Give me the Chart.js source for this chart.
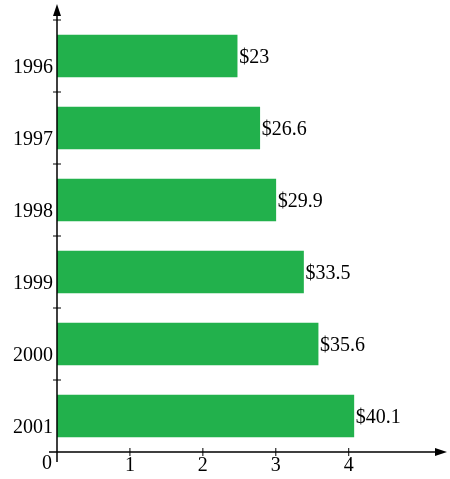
<!DOCTYPE html>
<html>
<head>
<meta charset="utf-8">
<script src="https://cdn.jsdelivr.net/npm/chart.js@4"></script>
<style>
  html, body { margin: 0; padding: 0; background: #fff; }
  #wrap { width: 450px; height: 479px; }
</style>
</head>
<body>
<div id="wrap"><canvas id="chart"></canvas></div>
<script>
const years = ['1996', '1997', '1998', '1999', '2000', '2001'];
const barLengths = [2.47, 2.78, 3.0, 3.38, 3.58, 4.07];
const valueLabels = ['$23', '$26.6', '$29.9', '$33.5', '$35.6', '$40.1'];
const xTicks = [1, 2, 3, 4];
const font = '20px "Liberation Serif", "Times New Roman", serif';

// axes, arrows and labels drawn by hand to look like the original
const axesPlugin = {
    id: 'axesPlugin',
    afterDraw(chart) {
        const ctx = chart.ctx;
        const xs = chart.scales.x;
        const ys = chart.scales.y;
        const x0 = xs.getPixelForValue(0);
        const yb = chart.chartArea.bottom;
        ctx.save();
        ctx.strokeStyle = '#000';
        ctx.fillStyle = '#000';
        ctx.lineWidth = 1.5;
        ctx.beginPath();
        ctx.moveTo(x0, yb + 10);
        ctx.lineTo(x0, 10);
        ctx.moveTo(x0 - 8, yb);
        ctx.lineTo(442, yb);
        ctx.stroke();
        // arrow heads
        ctx.beginPath();
        ctx.moveTo(x0, 4); ctx.lineTo(x0 - 4, 16); ctx.lineTo(x0 + 4, 16); ctx.closePath();
        ctx.moveTo(447, yb); ctx.lineTo(435, yb - 4); ctx.lineTo(435, yb + 4); ctx.closePath();
        ctx.fill();
        ctx.font = font;
        ctx.textBaseline = 'top';
        ctx.textAlign = 'center';
        ctx.lineWidth = 1;
        xTicks.forEach(v => {
            const px = xs.getPixelForValue(v);
            ctx.beginPath(); ctx.moveTo(px, yb - 4); ctx.lineTo(px, yb + 4); ctx.stroke();
            ctx.fillText(String(v), px, yb + 4);
        });
        ctx.fillText('0', x0 - 10, yb + 2);
        // y ticks between categories and year labels
        const step = ys.getPixelForValue(1) - ys.getPixelForValue(0);
        ctx.textAlign = 'right';
        ctx.textBaseline = 'middle';
        years.forEach((yr, i) => {
            const py = ys.getPixelForValue(i);
            const tick = py - step / 2;
            ctx.beginPath(); ctx.moveTo(x0 - 4, tick); ctx.lineTo(x0 + 4, tick); ctx.stroke();
            ctx.fillText(yr, x0 - 4, py + 12);
        });
        // value labels at bar ends
        ctx.textAlign = 'left';
        const meta = chart.getDatasetMeta(0);
        meta.data.forEach((bar, i) => {
            ctx.fillText(valueLabels[i], bar.x + 2, bar.y + 2);
        });
        ctx.restore();
    }
};

new Chart(document.getElementById('chart'), {
    type: 'bar',
    data: {
        labels: years,
        datasets: [{
            data: barLengths,
            backgroundColor: '#22b14c',
            borderWidth: 0,
            barThickness: 42
        }]
    },
    options: {
        indexAxis: 'y',
        responsive: true,
        maintainAspectRatio: false,
        animation: false,
        layout: { padding: { left: 57, right: 5, top: 20, bottom: 27 } },
        plugins: { legend: { display: false }, tooltip: { enabled: false } },
        scales: {
            x: { display: false, min: 0, max: 5.32 },
            y: { display: false, offset: true }
        }
    },
    plugins: [axesPlugin]
});
</script>
</body>
</html>
